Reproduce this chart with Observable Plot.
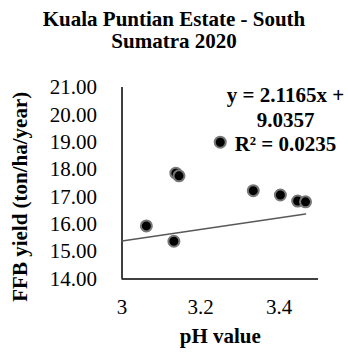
<!DOCTYPE html>
<html>
<head>
<meta charset="utf-8">
<script src="https://cdn.jsdelivr.net/npm/d3@7"></script>
<script src="https://cdn.jsdelivr.net/npm/@observablehq/plot@0.6"></script>
<style>
  html, body { margin: 0; padding: 0; background: #fff; }
  #title { width: 348px; text-align: center; font-family: "Liberation Serif", "Times New Roman", serif;
           font-weight: bold; font-size: 21px; line-height: 22px; padding-top: 8px; height: 44px; color: #000; }
  #chart svg { display: block; }
</style>
</head>
<body>
<div id="title">Kuala Puntian Estate - South<br>Sumatra 2020</div>
<div id="chart"></div>
<script>
const phValues = [3.062, 3.132, 3.137, 3.145, 3.25, 3.334, 3.403, 3.447, 3.467];
const ffbYield = [15.94, 15.38, 17.87, 17.77, 19.0, 17.23, 17.07, 16.85, 16.82];
const yTicks = [14, 15, 16, 17, 18, 19, 20, 21];
const xTicks = [3, 3.2, 3.4];
const slope = [2.1165];
const intercept = [9.0357];
const rSquared = [0.0235];

const points = phValues.map((x, i) => ({x, y: ffbYield[i]}));
const xMin = 3, xMax = d3.max(phValues);
const trend = [xMin, xMax].map(x => ({x, y: slope[0] * x + intercept[0]}));
const eqText = `y = ${slope[0]}x +\n${intercept[0]}\nR² = ${rSquared[0]}`;
const font = '"Liberation Serif", "Times New Roman", serif';

const chart = Plot.plot({
  width: 348,
  height: 300,
  marginTop: 35,
  marginBottom: 73.5,
  marginLeft: 121.5,
  marginRight: 30,
  style: {fontFamily: font, fontSize: "21px", color: "#000", background: "#fff"},
  x: {domain: [3, 3.5], ticks: xTicks, tickFormat: d => String(d), tickSize: 0, tickPadding: 20, label: null},
  y: {domain: [14, 21], ticks: yTicks, tickFormat: d3.format(".2f"), tickSize: 0, tickPadding: 25, label: null},
  marks: [
    Plot.ruleX([3], {y1: 14, y2: 21, stroke: "#000", strokeWidth: 1.5}),
    Plot.ruleY([14], {x1: 3, x2: 3.5, stroke: "#000", strokeWidth: 1.5}),
    Plot.line(trend, {x: "x", y: "y", stroke: "#595959", strokeWidth: 1.5}),
    Plot.dot(points, {x: "x", y: "y", r: 5.5, fill: "#000", stroke: "#777", strokeWidth: 2}),
    Plot.text([eqText], {frameAnchor: "top-left", dx: 163.5, dy: -3, textAnchor: "middle", lineAnchor: "top",
      lineHeight: 1.17, fontWeight: "bold", fontSize: 21, fill: "#000"}),
    Plot.text(["FFB yield (ton/ha/year)"], {frameAnchor: "left", rotate: -90, dx: -102.2, dy: 13.5,
      textAnchor: "middle", lineAnchor: "middle", fontWeight: "bold", fontSize: 21, fill: "#000"}),
    Plot.text(["pH value"], {frameAnchor: "bottom", dy: 57, textAnchor: "middle", lineAnchor: "middle",
      fontWeight: "bold", fontSize: 21, fill: "#000"})
  ]
});
document.getElementById("chart").appendChild(chart);
</script>
</body>
</html>
